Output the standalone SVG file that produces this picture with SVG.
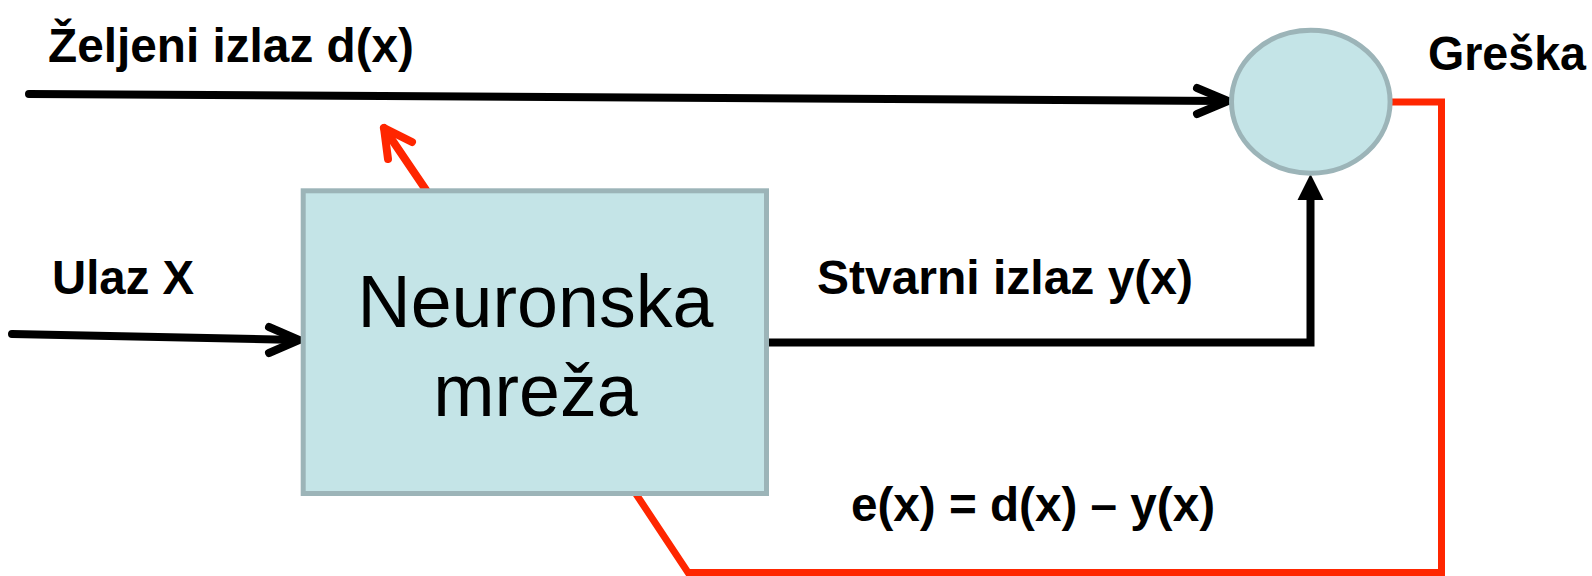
<svg xmlns="http://www.w3.org/2000/svg" width="1592" height="576" viewBox="0 0 1592 576">
  <style>
    .lbl { font-family: "Liberation Sans", Arial, sans-serif; font-weight: bold; font-size: 48px; fill: #000; }
    .big { font-family: "Liberation Sans", Arial, sans-serif; font-size: 73.6px; fill: #000; text-anchor: middle; }
    .node { fill: #c4e4e7; stroke: #9cb4b8; stroke-width: 5; }
    .blk { fill: none; stroke: #000; stroke-width: 8; stroke-linecap: round; stroke-linejoin: round; }
    .red { fill: none; stroke: #ff2600; stroke-width: 7; stroke-linejoin: miter; }
  </style>

  <!-- connectors -->
  <g id="connectors">
    <!-- desired output d(x) into the comparator -->
    <path class="blk" d="M 29 94 L 1226 101"/>
    <path class="blk" d="M 1197 88 L 1228 101 L 1197 114"/>
    <!-- input X into the network -->
    <path class="blk" d="M 12 334 L 298 340"/>
    <path class="blk" d="M 269 327 L 299 340 L 269 353"/>
    <!-- actual output y(x) up to the comparator -->
    <path fill="none" stroke="#000" stroke-width="8" stroke-linejoin="miter" d="M 768 342.5 L 1310.5 342.5 L 1310.5 198"/>
    <polygon fill="#000" points="1310.5,174 1297.5,200 1323.5,200"/>
    <!-- error feedback loop -->
    <path class="red" d="M 1388 102 L 1441.5 102 L 1441.5 572.5 L 688 572.5 L 636 494"/>
    <!-- weight adjustment arrow -->
    <path fill="none" stroke="#ff2600" stroke-width="8" stroke-linecap="round" stroke-linejoin="round" d="M 426 190 L 384 128"/>
    <path fill="none" stroke="#ff2600" stroke-width="8" stroke-linecap="round" stroke-linejoin="round" d="M 388 159 L 384 128 L 412 142"/>
  </g>

  <!-- neural network block -->
  <g id="network">
    <rect class="node" x="303.2" y="190.8" width="463.3" height="302.7"/>
    <text class="big" x="535.5" y="326.7">Neuronska</text>
    <text class="big" x="535.5" y="416">mreža</text>
  </g>

  <!-- comparator -->
  <g id="comparator">
    <ellipse class="node" cx="1310.8" cy="101.7" rx="79.3" ry="71.5"/>
  </g>

  <!-- labels -->
  <g id="labels">
    <text class="lbl" x="48" y="62" textLength="366" lengthAdjust="spacingAndGlyphs">Željeni izlaz d(x)</text>
    <text class="lbl" x="52" y="294" textLength="142" lengthAdjust="spacingAndGlyphs">Ulaz X</text>
    <text class="lbl" x="817" y="294" textLength="376" lengthAdjust="spacingAndGlyphs">Stvarni izlaz y(x)</text>
    <text class="lbl" x="851" y="521" textLength="364" lengthAdjust="spacingAndGlyphs">e(x) = d(x) – y(x)</text>
    <text class="lbl" x="1428" y="70" textLength="158" lengthAdjust="spacingAndGlyphs">Greška</text>
  </g>
</svg>
